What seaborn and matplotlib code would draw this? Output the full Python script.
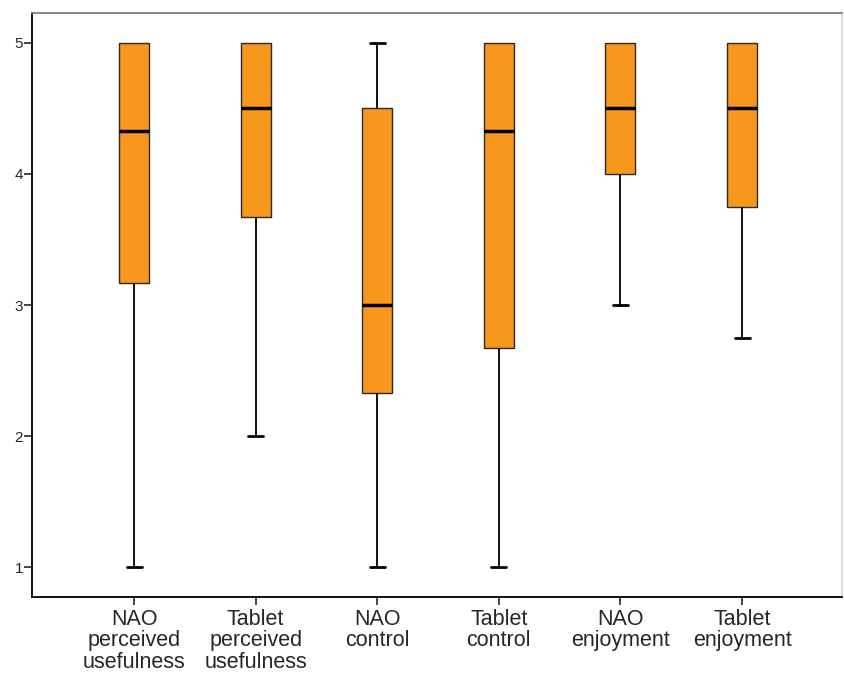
import numpy as np
import pandas as pd
import matplotlib
matplotlib.use("Agg")
import matplotlib.pyplot as plt
import seaborn as sns

categories = ["NAO\nperceived\nusefulness", "Tablet\nperceived\nusefulness", "NAO\ncontrol",
              "Tablet\ncontrol", "NAO\nenjoyment", "Tablet\nenjoyment"]
# five-number summaries: min, q1, median, q3, max
mins    = [1.00, 2.00, 1.00, 1.00, 3.00, 2.75]
q1s     = [3.17, 3.67, 2.33, 2.67, 4.00, 3.75]
medians = [4.33, 4.50, 3.00, 4.33, 4.50, 4.50]
q3s     = [5.00, 5.00, 4.50, 5.00, 5.00, 5.00]
maxs    = [5.00, 5.00, 5.00, 5.00, 5.00, 5.00]
yticks = [1, 2, 3, 4, 5]

rows = []
for c, a, b, m, d, e in zip(categories, mins, q1s, medians, q3s, maxs):
    for v in (a, b, m, d, e):
        rows.append({"cat": c, "val": v})
df = pd.DataFrame(rows)

sns.set_style("white")
plt.rcParams["font.family"] = ["Liberation Sans", "DejaVu Sans"]

fig = plt.figure(figsize=(8.44, 6.74), dpi=100)
ax = fig.add_axes([32/844, 1-597/674, 810/844, 584/674])

sns.boxplot(data=df, x="cat", y="val", order=categories, ax=ax, whis=(0, 100),
            width=0.247, color="#F7981D", saturation=1, linewidth=1.0,
            boxprops=dict(edgecolor="#2a2a2a", facecolor="#F7981D"),
            medianprops=dict(color="black", linewidth=2.5),
            whiskerprops=dict(color="black", linewidth=1.3),
            capprops=dict(color="black", linewidth=2.0),
            showfliers=False)

# hide caps that coincide with the box edge (max == q3)
for line in ax.lines:
    yd = np.asarray(line.get_ydata(), dtype=float)
    xd = np.asarray(line.get_xdata(), dtype=float)
    if len(yd) == 2 and yd[0] == yd[1] and yd[0] == 5.0:
        idx = int(round(xd.mean()))
        if q3s[idx] == maxs[idx]:
            line.set_visible(False)

ax.set_xlim(-0.839, 5.822)
ax.set_ylim(0.771, 5.229)
ax.set_yticks(yticks)
ax.set_yticklabels([str(t) for t in yticks], fontsize=11)
ax.set_xlabel("")
ax.set_ylabel("")
ax.tick_params(axis="x", labelsize=15.5, length=6, width=1.2, direction="out", bottom=True, pad=2.5)
ax.tick_params(axis="y", length=6, width=1.2, direction="out", left=True, pad=0.5)
for lbl in ax.get_xticklabels():
    lbl.set_linespacing(1.04)
ax.spines["left"].set_color("black")
ax.spines["bottom"].set_color("black")
ax.spines["top"].set_color("#808080")
ax.spines["right"].set_color("#dddddd")
for s in ax.spines.values():
    s.set_linewidth(1.3)

fig.savefig("out.png", dpi=100)
